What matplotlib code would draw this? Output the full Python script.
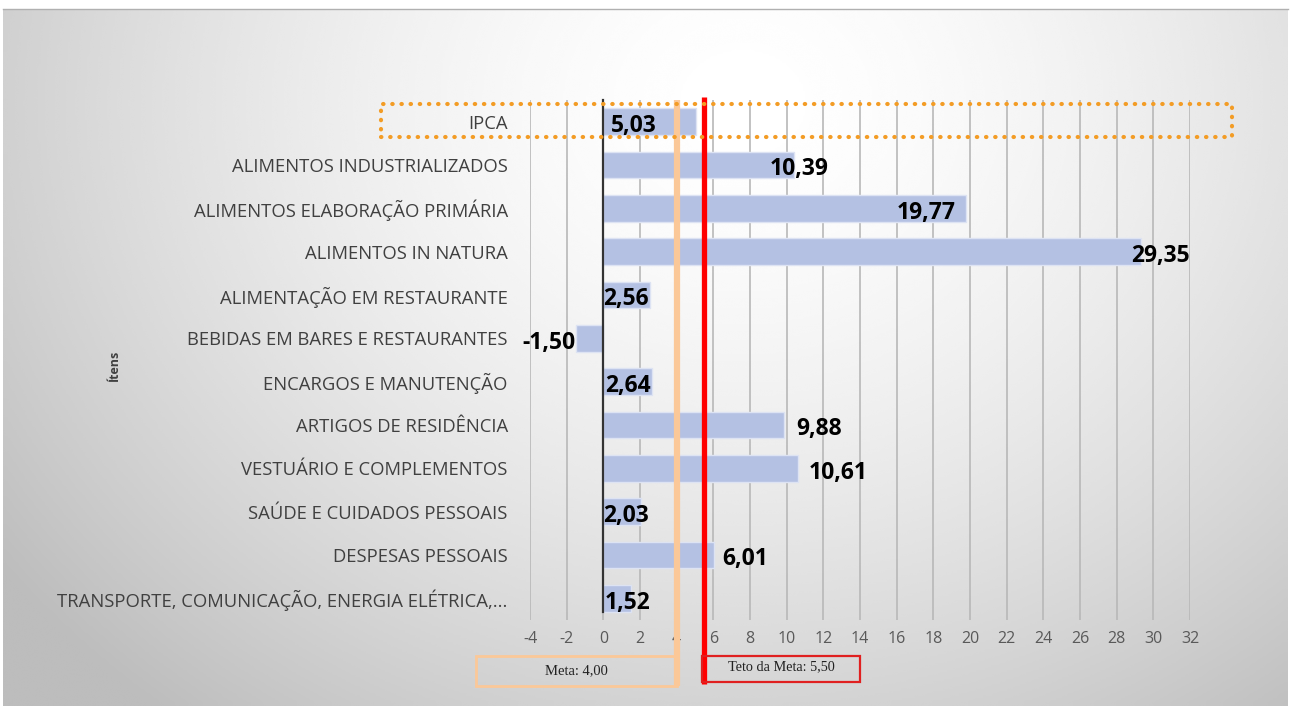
import numpy as np
import matplotlib.pyplot as plt
from matplotlib.patches import Rectangle

categorias = [
    "IPCA",
    "ALIMENTOS INDUSTRIALIZADOS",
    "ALIMENTOS ELABORAÇÃO PRIMÁRIA",
    "ALIMENTOS IN NATURA",
    "ALIMENTAÇÃO EM RESTAURANTE",
    "BEBIDAS EM BARES E RESTAURANTES",
    "ENCARGOS E MANUTENÇÃO",
    "ARTIGOS DE RESIDÊNCIA",
    "VESTUÁRIO E COMPLEMENTOS",
    "SAÚDE E CUIDADOS PESSOAIS",
    "DESPESAS PESSOAIS",
    "TRANSPORTE, COMUNICAÇÃO, ENERGIA ELÉTRICA,...",
]
valores = [5.03, 10.39, 19.77, 29.35, 2.56, -1.50, 2.64, 9.88, 10.61, 2.03, 6.01, 1.52]
meta = 4.00
teto = 5.50
xticks = list(range(-4, 33, 2))

# where each value label starts (data units), labels were placed by hand in the original
label_x = [0.4, 9.1, 16.0, 28.8, 0.0, -1.5, 0.1, 10.5, 11.2, 0.0, 6.5, 0.1]

fmt = lambda v: f"{v:.2f}".replace(".", ",")

W, H = 1291, 710
fig = plt.figure(figsize=(W / 100, H / 100), dpi=100, facecolor="white")

# radial gradient background
bg = fig.add_axes([3 / W, 4 / H, 1285 / W, 697 / H])
yy, xx = np.mgrid[0:300, 0:600]
d = np.sqrt(((xx - 345) / 420.0) ** 2 + ((yy - 40) / 330.0) ** 2)
g = np.clip(1.0 - 0.25 * d ** 1.6, 0.74, 1.0)
bg.imshow(g, cmap="gray", vmin=0, vmax=1, aspect="auto", interpolation="bicubic")
bg.set_axis_off()
fig.add_artist(plt.Line2D([3 / W, 1288 / W], [701 / H, 701 / H], color="#b0b0b0", lw=1))

ax = fig.add_axes([530 / W, 90 / H, 660 / W, 520 / H])
ax.set_facecolor("none")
y = np.arange(len(categorias))
ax.barh(y, valores, height=0.62, color="#b4c1e3", edgecolor="#dde3f3", lw=1, zorder=3)
ax.set_xlim(-4, 32)
ax.set_ylim(len(categorias) - 0.5, -0.5)
ax.set_xticks(xticks)
ax.set_xticklabels([str(t) for t in xticks])
ax.set_yticks(y)
ax.set_yticklabels(categorias)
ax.tick_params(axis="x", length=0, pad=8, labelsize=11.5, labelcolor="#595959")
ax.tick_params(axis="y", length=0, pad=16, labelsize=13.3, labelcolor="#404040")
for lab in ax.get_xticklabels() + ax.get_yticklabels():
    lab.set_fontfamily("Open Sans")
for t in xticks:
    ax.axvline(t, color="#b8b8b8", lw=1.2, zorder=1)
for s in ax.spines.values():
    s.set_visible(False)

ax.set_ylabel("Ítens", fontsize=9, fontweight="bold", family="Open Sans",
              color="#404040", labelpad=0)
ax.yaxis.set_label_coords(-0.62, 0.49)

# value labels
for yi, v, lx in zip(y, valores, label_x):
    ha = "right" if v < 0 else "left"
    ax.text(lx, yi + 0.1, fmt(v), ha=ha, va="center", fontsize=16.5,
            fontweight="bold", family="Open Sans", color="black", zorder=5)

trans = ax.get_xaxis_transform()
ax.plot([0, 0], [1, 0.015], transform=trans, color="#333333", lw=1.6, zorder=4, clip_on=False)
ax.plot([meta, meta], [1, -0.127], transform=trans, color="#fbc898", lw=4.5, zorder=6,
        clip_on=False, solid_capstyle="butt")
ax.plot([teto, teto], [1.005, -0.123], transform=trans, color="#ff0000", lw=3.8, zorder=6,
        clip_on=False, solid_capstyle="butt")

# dotted box around IPCA
fig.add_artist(Rectangle((381 / W, (710 - 137) / H), 851 / W, 33 / H, transform=fig.transFigure,
                         fill=False, edgecolor="#f39c25", lw=3, linestyle=(0, (0.1, 2.1)),
                         capstyle="round", zorder=10))

# target boxes
fig.add_artist(Rectangle((476 / W, 24 / H), 201 / W, 30 / H, transform=fig.transFigure,
                         fill=False, edgecolor="#fbc898", lw=2))
fig.text(576 / W, 39 / H, "Meta: 4,00", ha="center", va="center", fontsize=10.5,
         family="Liberation Serif", color="#222222")
fig.add_artist(Rectangle((702 / W, 28 / H), 158 / W, 26 / H, transform=fig.transFigure,
                         fill=False, edgecolor="#e02020", lw=1.6))
fig.text(781 / W, 43 / H, "Teto da Meta: 5,50", ha="center", va="center", fontsize=10.3,
         family="Liberation Serif", color="#222222")

fig.savefig("out.png", dpi=100, facecolor="white")
